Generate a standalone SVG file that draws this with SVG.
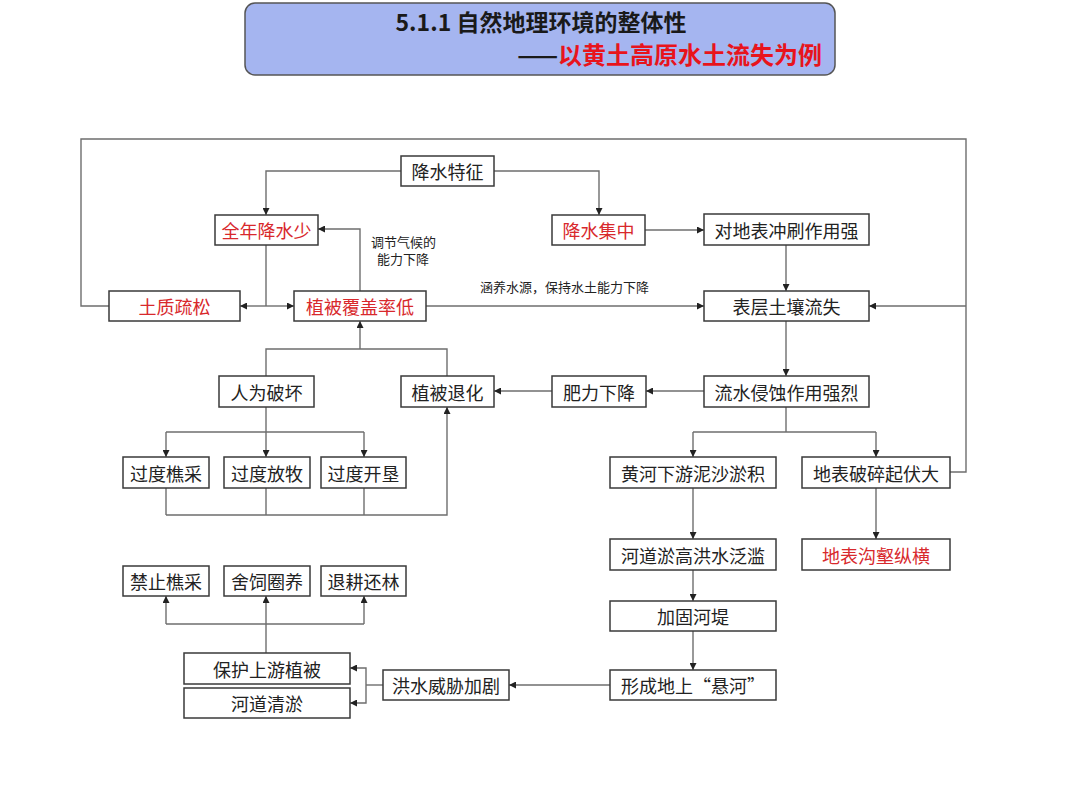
<svg xmlns="http://www.w3.org/2000/svg" width="1080" height="810" viewBox="0 0 1080 810">
<style>
.bx{fill:#fff;stroke:#3a3a3a;stroke-width:1.5}
.t{font-family:"Noto Sans CJK SC","Noto Sans",sans-serif;font-size:18px;fill:#222;text-anchor:middle;dominant-baseline:central}
.r{fill:#d8282c}
.s{font-family:"Noto Sans CJK SC","Noto Sans",sans-serif;font-size:13px;fill:#222}
.ln{fill:none;stroke:#6e6e6e;stroke-width:1.4}
.ar{marker-end:url(#ah)}
</style>
<defs>
<marker id="ah" viewBox="0 0 8 8" refX="8" refY="4" markerWidth="7" markerHeight="7" markerUnits="userSpaceOnUse" orient="auto">
<path d="M0,0 L8,4 L0,8 z" fill="#222"/>
</marker>
</defs>
<rect width="1080" height="810" fill="#fff"/>
<g id="title">
<rect x="245" y="3" width="590" height="72" rx="10" fill="#a5b5f0" stroke="#555" stroke-width="1.5"/>
<text x="541" y="31" font-family="'Noto Sans CJK SC','Noto Sans',sans-serif" font-size="23" font-weight="bold" fill="#1a1a1a" text-anchor="middle">5.1.1 自然地理环境的整体性</text>
<text x="822" y="64" font-family="'Noto Sans CJK SC','Noto Sans',sans-serif" font-size="24" font-weight="bold" fill="#1a1a1a" text-anchor="end">——<tspan fill="#e8141c">以黄土高原水土流失为例</tspan></text>
</g>
<g id="connectors">
<polyline class="ln" points="109,306 81,306 81,139 966,139 966,472 950,472"/>
<line class="ln ar" x1="966" y1="306" x2="869" y2="306"/>
<polyline class="ln ar" points="401,171 266,171 266,215"/>
<polyline class="ln ar" points="494,171 599,171 599,215"/>
<line class="ln ar" x1="645" y1="230" x2="704" y2="230"/>
<line class="ln ar" x1="786" y1="245" x2="786" y2="291"/>
<line class="ln" x1="266" y1="245" x2="266" y2="306"/>
<line class="ln ar" x1="266" y1="306" x2="240" y2="306"/>
<line class="ln ar" x1="266" y1="306" x2="294" y2="306"/>
<polyline class="ln ar" points="360,291 360,229 318,229"/>
<line class="ln ar" x1="426" y1="306" x2="704" y2="306"/>
<line class="ln ar" x1="786" y1="321" x2="786" y2="376"/>
<line class="ln ar" x1="704" y1="391" x2="646" y2="391"/>
<line class="ln ar" x1="552" y1="391" x2="494" y2="391"/>
<polyline class="ln" points="447,376 447,349 266,349 266,376"/>
<line class="ln ar" x1="360" y1="349" x2="360" y2="321"/>
<line class="ln" x1="266" y1="407" x2="266" y2="432"/>
<polyline class="ln ar" points="166,432 166,457"/>
<polyline class="ln ar" points="266,432 266,457"/>
<polyline class="ln ar" points="364,432 364,457"/>
<line class="ln" x1="166" y1="432" x2="364" y2="432"/>
<line class="ln" x1="166" y1="488" x2="166" y2="515"/>
<line class="ln" x1="266" y1="488" x2="266" y2="515"/>
<line class="ln" x1="364" y1="488" x2="364" y2="515"/>
<polyline class="ln ar" points="166,515 447,515 447,407"/>
<line class="ln" x1="786" y1="407" x2="786" y2="432"/>
<polyline class="ln ar" points="693,432 693,457"/>
<polyline class="ln ar" points="876,432 876,457"/>
<line class="ln" x1="693" y1="432" x2="876" y2="432"/>
<line class="ln ar" x1="693" y1="488" x2="693" y2="539"/>
<line class="ln ar" x1="876" y1="488" x2="876" y2="539"/>
<line class="ln ar" x1="693" y1="570" x2="693" y2="601"/>
<line class="ln ar" x1="693" y1="631" x2="693" y2="670"/>
<line class="ln ar" x1="610" y1="685" x2="509" y2="685"/>
<line class="ln" x1="383" y1="685" x2="366" y2="685"/>
<polyline class="ln ar" points="366,685 366,668 350,668"/>
<polyline class="ln ar" points="366,685 366,703 350,703"/>
<line class="ln" x1="266" y1="653" x2="266" y2="624"/>
<line class="ln" x1="166" y1="624" x2="364" y2="624"/>
<line class="ln ar" x1="166" y1="624" x2="166" y2="596"/>
<line class="ln ar" x1="266" y1="624" x2="266" y2="596"/>
<line class="ln ar" x1="364" y1="624" x2="364" y2="596"/>
<text class="s" x="371" y="247">调节气候的</text>
<text class="s" x="377" y="264">能力下降</text>
<text class="s" x="480" y="292">涵养水源，保持水土能力下降</text>
</g>
<g id="n1"><rect class="bx" x="401" y="156" width="93" height="30"/><text class="t" x="447.5" y="171">降水特征</text></g>
<g id="n2"><rect class="bx" x="215" y="215" width="103" height="30"/><text class="t r" x="266.5" y="230">全年降水少</text></g>
<g id="n3"><rect class="bx" x="552" y="215" width="93" height="30"/><text class="t r" x="598.5" y="230">降水集中</text></g>
<g id="n4"><rect class="bx" x="704" y="214" width="165" height="31"/><text class="t" x="786.5" y="229.5">对地表冲刷作用强</text></g>
<g id="n5"><rect class="bx" x="109" y="291" width="131" height="30"/><text class="t r" x="174.5" y="306">土质疏松</text></g>
<g id="n6"><rect class="bx" x="294" y="291" width="132" height="30"/><text class="t r" x="360" y="306">植被覆盖率低</text></g>
<g id="n7"><rect class="bx" x="704" y="291" width="165" height="30"/><text class="t" x="786.5" y="306">表层土壤流失</text></g>
<g id="n8"><rect class="bx" x="219" y="376" width="95" height="31"/><text class="t" x="266.5" y="391.5">人为破坏</text></g>
<g id="n9"><rect class="bx" x="401" y="376" width="93" height="31"/><text class="t" x="447.5" y="391.5">植被退化</text></g>
<g id="n10"><rect class="bx" x="552" y="376" width="94" height="31"/><text class="t" x="599" y="391.5">肥力下降</text></g>
<g id="n11"><rect class="bx" x="704" y="376" width="165" height="31"/><text class="t" x="786.5" y="391.5">流水侵蚀作用强烈</text></g>
<g id="n12"><rect class="bx" x="123" y="457" width="86" height="31"/><text class="t" x="166" y="472.5">过度樵采</text></g>
<g id="n13"><rect class="bx" x="224" y="457" width="86" height="31"/><text class="t" x="267" y="472.5">过度放牧</text></g>
<g id="n14"><rect class="bx" x="321" y="457" width="85" height="31"/><text class="t" x="363.5" y="472.5">过度开垦</text></g>
<g id="n15"><rect class="bx" x="610" y="457" width="166" height="31"/><text class="t" x="693" y="472.5">黄河下游泥沙淤积</text></g>
<g id="n16"><rect class="bx" x="802" y="457" width="148" height="31"/><text class="t" x="876" y="472.5">地表破碎起伏大</text></g>
<g id="n17"><rect class="bx" x="610" y="539" width="166" height="31"/><text class="t" x="693" y="554.5">河道淤高洪水泛滥</text></g>
<g id="n18"><rect class="bx" x="802" y="539" width="148" height="31"/><text class="t r" x="876" y="554.5">地表沟壑纵横</text></g>
<g id="n19"><rect class="bx" x="610" y="601" width="166" height="30"/><text class="t" x="693" y="616">加固河堤</text></g>
<g id="n20"><rect class="bx" x="610" y="670" width="166" height="30"/><text class="t" x="693" y="685">形成地上“悬河”</text></g>
<g id="n21"><rect class="bx" x="383" y="670" width="126" height="30"/><text class="t" x="446" y="685">洪水威胁加剧</text></g>
<g id="n22"><rect class="bx" x="184" y="653" width="166" height="31"/><text class="t" x="267" y="668.5">保护上游植被</text></g>
<g id="n23"><rect class="bx" x="184" y="688" width="166" height="30"/><text class="t" x="267" y="703">河道清淤</text></g>
<g id="n24"><rect class="bx" x="123" y="566" width="86" height="30"/><text class="t" x="166" y="581">禁止樵采</text></g>
<g id="n25"><rect class="bx" x="224" y="566" width="86" height="30"/><text class="t" x="267" y="581">舍饲圈养</text></g>
<g id="n26"><rect class="bx" x="321" y="566" width="85" height="30"/><text class="t" x="363.5" y="581">退耕还林</text></g>
</svg>
